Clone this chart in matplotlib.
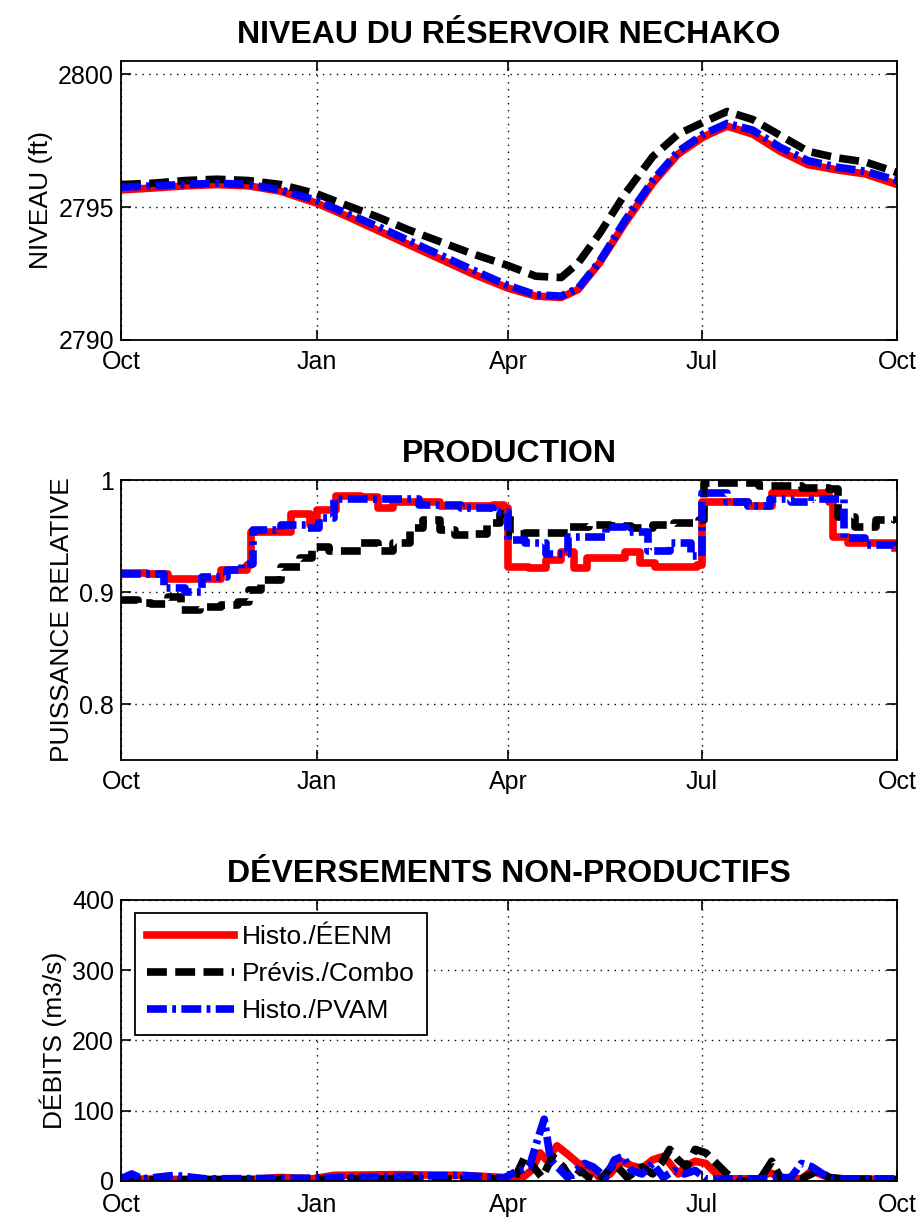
import matplotlib
matplotlib.use("Agg")
import matplotlib.pyplot as plt
import numpy as np

plt.rcParams['font.family'] = ['Liberation Sans', 'DejaVu Sans']

# jours depuis le 1er octobre
tick_days = [0, 92, 182, 273, 365]
tick_labels = ['Oct', 'Jan', 'Apr', 'Jul', 'Oct']

series_names = ['Histo./ÉENM', 'Prévis./Combo', 'Histo./PVAM']

# --- niveau du réservoir (ft)
niv_days = [0, 15, 30, 45, 60, 75, 92, 105, 120, 135, 150, 165, 182, 195, 207,
            215, 225, 237, 250, 262, 274, 285, 297, 310, 323, 337, 350, 365]
niv_histo = [2795.65, 2795.72, 2795.8, 2795.85, 2795.8, 2795.6, 2795.15, 2794.7,
             2794.15, 2793.6, 2793.05, 2792.5, 2791.95, 2791.65, 2791.6, 2791.9,
             2792.9, 2794.4, 2795.9, 2797.0, 2797.65, 2798.05, 2797.75, 2797.1,
             2796.6, 2796.4, 2796.25, 2795.85]
niv_combo = [2795.85, 2795.9, 2796.0, 2796.05, 2796.0, 2795.85, 2795.5, 2795.1,
             2794.65, 2794.15, 2793.7, 2793.25, 2792.8, 2792.4, 2792.35, 2792.9,
             2794.0, 2795.5, 2796.9, 2797.75, 2798.2, 2798.6, 2798.3, 2797.7,
             2797.1, 2796.85, 2796.7, 2796.3]
niv_pvam = [2795.75, 2795.8, 2795.85, 2795.9, 2795.85, 2795.65, 2795.25, 2794.8,
            2794.3, 2793.75, 2793.2, 2792.65, 2792.05, 2791.7, 2791.65, 2791.95,
            2792.95, 2794.5, 2796.0, 2797.1, 2797.75, 2798.15, 2797.9, 2797.25,
            2796.75, 2796.5, 2796.35, 2796.0]

# --- production relative
prod_histo_days = [0, 12, 22, 30, 47, 59, 61, 72, 80, 89, 92, 101, 113, 121, 128,
                   150, 175, 180, 182, 192, 200, 207, 213, 219, 237, 244, 251,
                   271, 273, 286, 295, 306, 333, 335, 342, 364]
prod_histo = [0.917, 0.916, 0.912, 0.912, 0.92, 0.924, 0.954, 0.954, 0.97, 0.96,
              0.973, 0.986, 0.985, 0.975, 0.98, 0.977, 0.978, 0.975, 0.922, 0.921,
              0.929, 0.936, 0.921, 0.93, 0.936, 0.926, 0.922, 0.924, 0.98, 0.98,
              0.977, 0.988, 0.98, 0.949, 0.944, 0.939]
prod_combo_days = [0, 8, 14, 22, 28, 37, 47, 55, 60, 66, 75, 84, 90, 98, 106, 113,
                   121, 128, 136, 142, 150, 157, 165, 172, 178, 183, 190, 200, 210,
                   220, 230, 240, 250, 260, 272, 274, 285, 300, 320, 333, 337, 345,
                   355, 364]
prod_combo = [0.893, 0.89, 0.889, 0.896, 0.884, 0.887, 0.888, 0.891, 0.902, 0.911,
              0.922, 0.93, 0.94, 0.937, 0.937, 0.944, 0.937, 0.944, 0.957, 0.964,
              0.955, 0.951, 0.952, 0.962, 0.97, 0.952, 0.953, 0.953, 0.958, 0.96,
              0.959, 0.957, 0.96, 0.962, 0.964, 0.997, 0.997, 0.995, 0.993, 0.992,
              0.967, 0.958, 0.964, 0.962]
prod_pvam_days = [0, 10, 20, 30, 38, 50, 57, 62, 75, 88, 93, 100, 110, 120, 140,
                  160, 175, 182, 190, 200, 210, 220, 228, 238, 248, 258, 268, 273,
                  285, 295, 305, 315, 325, 333, 340, 350, 364]
prod_pvam = [0.916, 0.916, 0.904, 0.9, 0.913, 0.92, 0.925, 0.955, 0.96, 0.957,
             0.966, 0.983, 0.983, 0.983, 0.978, 0.975, 0.971, 0.946, 0.944, 0.934,
             0.949, 0.949, 0.958, 0.954, 0.937, 0.944, 0.932, 0.988, 0.98, 0.977,
             0.983, 0.98, 0.983, 0.983, 0.948, 0.942, 0.94]

# --- déversements non productifs (m3/s)
dev_histo_days = [0, 30, 60, 75, 90, 100, 130, 160, 180, 188, 193, 197, 200, 205,
                  210, 215, 220, 225, 230, 235, 240, 245, 250, 255, 258, 262, 266,
                  270, 275, 280, 285, 300, 305, 310, 320, 325, 330, 335, 365]
dev_histo = [3, 2, 2, 5, 3, 8, 9, 8, 5, 3, 15, 40, 30, 50, 38, 25, 20, 5, 10, 28,
             22, 18, 30, 35, 25, 10, 22, 28, 25, 10, 3, 3, 12, 5, 3, 15, 8, 3, 2]
dev_combo_days = [0, 60, 120, 185, 190, 194, 198, 203, 208, 212, 216, 220, 225,
                  232, 238, 245, 250, 254, 258, 262, 266, 270, 275, 280, 285, 290,
                  300, 306, 310, 320, 328, 333, 340, 365]
dev_combo = [2, 2, 3, 3, 35, 20, 5, 35, 20, 0, 15, 5, 0, 25, 5, 20, 10, 25, 45,
             30, 20, 45, 40, 25, 10, 0, 0, 28, 5, 3, 15, 5, 3, 2]
dev_pvam_days = [0, 5, 10, 25, 40, 90, 120, 160, 180, 185, 192, 196, 199, 202,
                 210, 218, 222, 228, 232, 236, 240, 245, 250, 255, 260, 265, 270,
                 275, 300, 315, 320, 325, 330, 335, 365]
dev_pvam = [3, 10, 3, 8, 3, 4, 6, 8, 4, 12, 20, 60, 88, 30, 5, 25, 20, 5, 30, 35,
            15, 10, 25, 5, 15, 10, 15, 3, 3, 5, 25, 20, 10, 3, 3]

styles = [dict(color='red', linestyle='-', lw=5.5),
          dict(color='black', linestyle=(0, (2.6, 1.1)), lw=5.5),
          dict(color='blue', linestyle=(0, (2.6, 0.7, 0.5, 0.7)), lw=5.5)]

fig = plt.figure(figsize=(9.24, 12.18), dpi=100)
fig.patch.set_facecolor('white')
L, W = 0.131, 0.840
ax1 = fig.add_axes([L, 0.7209, W, 0.2290])
ax2 = fig.add_axes([L, 0.3760, W, 0.2299])
ax3 = fig.add_axes([L, 0.0304, W, 0.2307])


def habiller(ax, titre, ylab, xpad=7):
    ax.set_xlim(0, 365)
    ax.set_xticks(tick_days)
    ax.set_xticklabels(tick_labels)
    ax.grid(True, color='black', linestyle=(0, (1, 4)), lw=1.0)
    ax.tick_params(direction='in', length=7, width=1.2, labelsize=18,
                   top=True, right=True)
    ax.tick_params(axis='x', pad=xpad)
    ax.tick_params(axis='y', pad=5)
    for s in ax.spines.values():
        s.set_linewidth(1.3)
    ax.set_title(titre, fontsize=23, fontweight='bold', pad=13)
    ax.set_ylabel(ylab, fontsize=19, labelpad=4)


# niveau
for y, st, nom in zip([niv_histo, niv_combo, niv_pvam], styles, series_names):
    ax1.plot(niv_days, y, label=nom, **st)
ax1.set_ylim(2790, 2800.5)
ax1.set_yticks([2790, 2795, 2800])
habiller(ax1, 'NIVEAU DU RÉSERVOIR NECHAKO', 'NIVEAU (ft)')

# production
for d, y, st in zip([prod_histo_days, prod_combo_days, prod_pvam_days],
                    [prod_histo, prod_combo, prod_pvam], styles):
    ax2.step(d, y, where='post', **st)
ax2.set_ylim(0.75, 1.0)
ax2.set_yticks([0.8, 0.9, 1.0])
ax2.set_yticklabels(['0.8', '0.9', '1'])
habiller(ax2, 'PRODUCTION', 'PUISSANCE RELATIVE')

# déversements
for d, y, st, nom in zip([dev_histo_days, dev_combo_days, dev_pvam_days],
                         [dev_histo, dev_combo, dev_pvam], styles, series_names):
    ax3.plot(d, y, label=nom, **st)
ax3.set_ylim(0, 400)
ax3.set_yticks([0, 100, 200, 300, 400])
habiller(ax3, 'DÉVERSEMENTS NON-PRODUCTIFS', 'DÉBITS (m3/s)', xpad=9)
leg = ax3.legend(loc='upper left', bbox_to_anchor=(0.018, 0.954), fontsize=19,
                 fancybox=False, edgecolor='black', framealpha=1,
                 borderaxespad=0, handlelength=3.3, handletextpad=0.3,
                 borderpad=0.45, labelspacing=0.5)
leg.get_frame().set_linewidth(1.3)

fig.savefig('out.png', dpi=100, facecolor='white')
